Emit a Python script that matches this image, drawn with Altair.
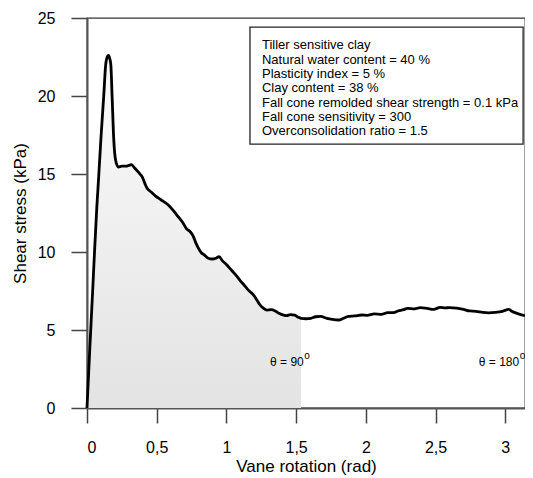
import math
import altair as alt
import pandas as pd

# ---- data ----
rotation = [0, 0.02, 0.04, 0.055, 0.07, 0.085, 0.10, 0.12, 0.134, 0.145, 0.155, 0.163, 0.171,
            0.18, 0.192, 0.205, 0.225, 0.25, 0.28, 0.30, 0.318, 0.34, 0.37, 0.397, 0.415, 0.43, 0.46,
            0.49, 0.53, 0.585, 0.62, 0.655, 0.69, 0.713, 0.74, 0.76, 0.78, 0.796, 0.82, 0.843,
            0.866, 0.90, 0.925, 0.948, 0.97, 1.0, 1.03, 1.055, 1.077, 1.10, 1.125, 1.148, 1.17,
            1.195, 1.22, 1.24, 1.265, 1.29, 1.32, 1.35, 1.38, 1.41, 1.43, 1.46, 1.49, 1.515,
            1.535, 1.5708, 1.606, 1.64, 1.676, 1.72, 1.76, 1.805, 1.84, 1.875, 1.92, 1.97, 2.01,
            2.06, 2.11, 2.157, 2.2, 2.23, 2.27, 2.30, 2.35, 2.39, 2.44, 2.486, 2.533, 2.57, 2.60,
            2.65, 2.70, 2.744, 2.79, 2.838, 2.88, 2.93, 2.98, 3.026, 3.05, 3.07, 3.10, 3.1416]
stress = [0, 3.8, 7.4, 10.2, 12.8, 15.0, 17.3, 20.0, 22.0, 22.5, 22.6, 22.4, 22.0,
          20.0, 17.2, 15.9, 15.45, 15.5, 15.5, 15.55, 15.6, 15.4, 15.1, 14.8, 14.4, 14.1, 13.85,
          13.6, 13.35, 13.0, 12.65, 12.25, 11.85, 11.5, 11.3, 11.05, 10.6, 10.3, 9.95, 9.8,
          9.62, 9.55, 9.6, 9.7, 9.45, 9.2, 8.9, 8.65, 8.42, 8.15, 7.9, 7.65, 7.45,
          7.24, 6.9, 6.62, 6.4, 6.28, 6.3, 6.22, 6.05, 5.95, 5.92, 5.98, 5.95, 5.82,
          5.75, 5.72, 5.75, 5.85, 5.87, 5.75, 5.68, 5.64, 5.75, 5.87, 5.9, 5.96, 5.94,
          6.03, 6.0, 6.11, 6.12, 6.22, 6.3, 6.39, 6.36, 6.43, 6.38, 6.32, 6.45, 6.42, 6.43,
          6.4, 6.32, 6.22, 6.2, 6.13, 6.1, 6.13, 6.2, 6.32, 6.18, 6.11, 6.02, 5.92]

x_ticks = [0, 0.5, 1, 1.5, 2, 2.5, 3]
y_ticks = [0, 5, 10, 15, 20, 25]

info_lines = ["Tiller sensitive clay",
              "Natural water content = 40 %",
              "Plasticity index = 5 %",
              "Clay content =  38 %",
              "Fall cone remolded shear strength = 0.1 kPa",
              "Fall cone sensitivity = 300",
              "Overconsolidation ratio  = 1.5"]

theta_labels = ["\u03b8 = 90", "\u03b8 = 180"]
theta_x = [1.555, 3.10]

FONT = "Liberation Sans"

df = pd.DataFrame({"x": rotation, "y": stress})
df_fill = df[df["x"] <= math.pi / 2 + 1e-9]

xs = alt.Scale(domain=[0, math.pi], nice=False, zero=False)
ys = alt.Scale(domain=[0, 25], nice=False)

x_axis = alt.Axis(values=x_ticks, title="Vane rotation (rad)",
                  labelExpr="replace(format(datum.value, '~g'), '.', ',')",
                  tickSize=15, labelPadding=16, titlePadding=3)
y_axis = alt.Axis(values=y_ticks, title="Shear stress (kPa)",
                  tickSize=16, labelPadding=16, titlePadding=8)

area = alt.Chart(df_fill).mark_area(
    interpolate="monotone",
    color=alt.Gradient(gradient="linear",
                       stops=[alt.GradientStop(color="#fbfbfb", offset=0),
                              alt.GradientStop(color="#e3e3e3", offset=1)],
                       x1=1, x2=1, y1=0, y2=1)
).encode(x=alt.X("x:Q", scale=xs, axis=x_axis), y=alt.Y("y:Q", scale=ys, axis=y_axis))

line = alt.Chart(df).mark_line(color="black", strokeWidth=2.8, interpolate="monotone").encode(
    x=alt.X("x:Q", scale=xs), y=alt.Y("y:Q", scale=ys))

box_df = pd.DataFrame({"x": [1.169], "x2": [3.128], "y": [16.92], "y2": [24.42]})
box = alt.Chart(box_df).mark_rect(fill="white", stroke="#222", strokeWidth=1.3).encode(
    x=alt.X("x:Q", scale=xs), x2="x2", y=alt.Y("y:Q", scale=ys), y2="y2")

info = alt.Chart(pd.DataFrame({"x": [1.255], "y": [22.99]})).mark_text(
    align="left", baseline="alphabetic", font=FONT, fontSize=13, lineHeight=14.3,
    color="black").encode(
    x=alt.X("x:Q", scale=xs), y=alt.Y("y:Q", scale=ys), text=alt.value(info_lines))

th_df = pd.DataFrame({"x": theta_x, "t": theta_labels})
theta = alt.Chart(th_df).mark_text(
    align="right", baseline="alphabetic", font=FONT, fontSize=12, color="black").encode(
    x=alt.X("x:Q", scale=xs), y=alt.datum(2.69, scale=ys), text="t:N")
sup = alt.Chart(th_df).mark_text(
    align="left", baseline="alphabetic", font=FONT, fontSize=10, color="black", dx=0.5).encode(
    x=alt.X("x:Q", scale=xs), y=alt.datum(3.15, scale=ys), text=alt.value("o"))

chart = alt.layer(area, line, box, info, theta, sup).properties(
    width=438, height=390,
    autosize=alt.AutoSizeParams(type="none"),
    padding={"left": 79, "top": 10, "right": 0, "bottom": 68},
).configure_view(stroke="#333", strokeWidth=1.3).configure_axis(
    grid=False, domainColor="#555", domainWidth=2, tickColor="#444", tickWidth=1.5,
    labelFont=FONT, labelFontSize=16, labelColor="black",
    titleFont=FONT, titleFontSize=17, titleFontWeight="normal", titleColor="black",
)

chart.save("out.html", embed_options={"renderer": "svg", "actions": False})
